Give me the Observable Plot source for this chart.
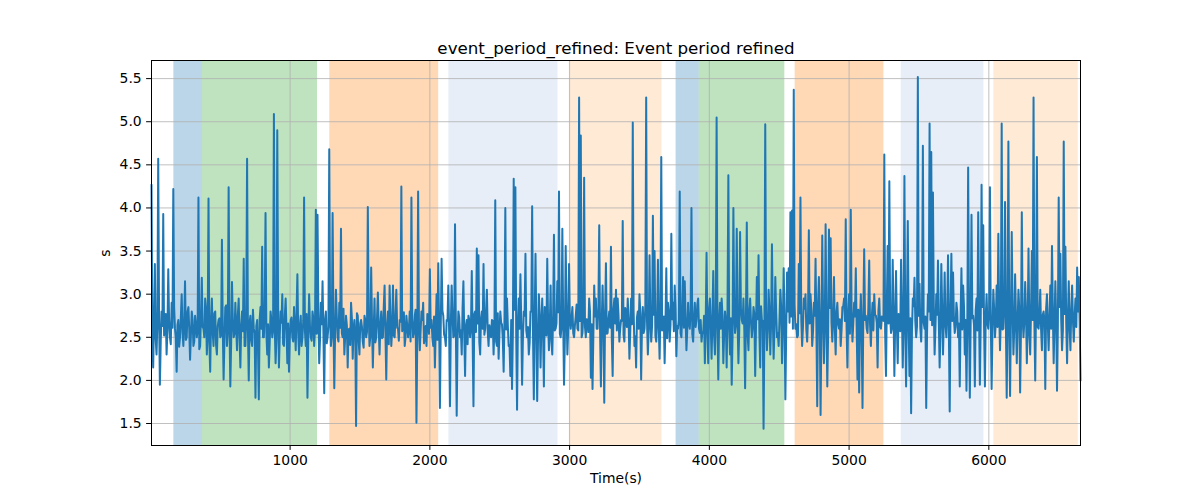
<!DOCTYPE html>
<html><head><meta charset="utf-8">
<script src="https://cdn.jsdelivr.net/npm/d3@7"></script>
<script src="https://cdn.jsdelivr.net/npm/@observablehq/plot@0.6"></script>
<style>body{margin:0;background:#fff;} #chart svg{display:block;}</style>
</head><body><div id="chart"></div>
<script>
const title = "event_period_refined: Event period refined";
const xLabel = "Time(s)";
const yLabel = "s";
const xTicks = [1000, 2000, 3000, 4000, 5000, 6000];
const yTicks = [1.5, 2.0, 2.5, 3.0, 3.5, 4.0, 4.5, 5.0, 5.5];
// samples at t = 8, 20, 32, ... (every 12 s)
const startTime = 8;
const sampleStep = 12;
const values = [
4.27,2.15,3.35,2.3,4.57,1.95,2.8,3.93,2.6,2.3,
3.29,2.5,2.9,4.22,2.6,2.1,2.7,2.5,3.0,2.4,
3.15,2.5,2.85,2.24,2.8,2.4,2.75,2.5,4.12,2.4,
3.19,2.6,2.95,2.3,4.11,2.1,2.95,2.4,2.8,2.3,
2.7,2.5,3.63,2.01,2.85,2.4,4.24,1.93,3.14,2.5,
2.9,2.35,2.95,2.15,2.8,3.41,2.4,4.57,2.0,2.75,
2.4,2.6,1.80,2.7,1.78,2.85,3.55,2.5,3.94,2.3,
2.15,2.8,2.5,5.09,2.2,4.90,2.15,2.8,3.0,2.4,
2.95,2.2,2.1,2.7,2.5,2.85,2.35,3.23,2.3,2.75,
2.5,4.12,2.4,1.80,3.0,2.5,2.8,2.4,3.98,3.92,
2.2,2.9,3.15,1.85,2.8,2.5,4.68,2.4,3.94,1.91,
3.05,2.5,2.9,3.76,
2.5,2.3,2.75,2.15,2.6,2.9,2.25,2.7,1.47,2.75,
2.3,2.7,2.45,2.75,2.5,4.01,2.4,3.31,2.15,2.95,
2.5,3.02,2.3,2.8,2.5,3.1,2.01,2.8,3.1,2.4,
3.1,2.5,3.05,2.6,2.7,4.25,2.6,2.4,2.75,2.5,
2.8,4.12,2.5,2.75,1.51,4.19,2.35,2.8,2.9,2.5,
2.4,2.7,3.29,2.7,2.4,2.15,3.0,3.36,1.68,3.41,
2.75,2.5,2.7,3.1,1.7,3.1,2.5,3.81,1.59,2.8,
2.5,2.3,3.15,2.05,2.7,2.75,2.5,3.27,1.70,2.8,
3.53,3.45,2.3,2.8,3.35,2.6,3.05,2.4,2.55,2.7,
2.3,4.09,2.4,2.25,2.8,2.65,2.1,4.0,2.95,2.4,
2.05,1.9,4.34,4.24,1.66,2.95,3.23,
1.95,2.8,3.47,2.5,2.3,2.8,4.02,1.78,3.47,1.76,
3.0,2.15,2.95,1.93,2.75,3.41,2.35,3.1,2.3,3.69,
2.6,3.15,4.19,2.5,3.76,1.95,3.56,2.3,3.35,2.6,
2.85,2.5,2.75,2.6,5.28,4.84,2.55,4.35,2.5,2.7,
2.95,2.03,1.9,3.1,2.95,2.6,3.80,1.93,3.1,1.74,
3.36,2.55,2.8,3.55,2.05,2.95,3.05,2.95,2.45,2.7,
3.85,2.45,2.8,2.95,2.25,2.95,4.99,2.4,2.15,2.8,
3.0,2.01,2.85,2.6,5.28,2.3,3.45,2.45,3.91,3.5,
2.45,3.4,2.25,4.59,2.7,2.2,3.3,2.9,2.45,3.7,
2.9,3.1,2.28,2.6,4.19,2.5,3.2,3.15,2.35,2.9,
2.6,4.0,2.45,2.9,2.7,2.95,2.55,2.45,
2.55,2.2,3.48,2.2,2.95,2.25,3.27,2.3,5.05,2.01,
2.9,2.95,2.2,2.8,2.15,4.38,2.3,1.95,4.0,2.55,
3.76,2.2,3.72,2.7,2.95,1.91,3.83,2.35,2.95,2.5,
2.85,2.05,3.2,3.45,2.15,2.7,1.44,4.97,2.35,3.05,
2.3,3.58,2.25,3.2,2.5,2.4,3.05,2.2,3.3,1.78,
3.25,3.3,3.95,3.97,5.37,2.6,2.5,3.35,4.12,2.4,
2.95,3.0,2.45,3.74,3.0,2.4,2.9,3.41,1.70,3.2,
1.60,3.68,2.2,3.81,1.93,3.75,3.65,2.45,3.2,2.3,
2.9,2.6,2.4,2.85,2.95,3.87,2.15,3.0,3.98,2.45,
2.9,3.3,2.01,1.86,3.0,1.68,3.52,2.75,2.55,3.39,
2.4,2.9,3.0,2.75,2.15,2.95,2.6,
2.7,4.62,2.05,3.56,4.31,2.55,3.4,2.05,3.27,2.2,
2.7,3.4,2.15,4.37,1.93,3.85,2.05,1.62,2.95,3.19,
2.5,5.52,3.12,2.45,4.72,2.6,1.68,3.0,4.98,4.65,
4.18,2.3,3.0,3.39,2.15,3.35,2.3,3.25,2.5,3.45,
1.64,3.47,3.25,2.55,2.9,2.5,1.93,3.3,3.1,2.3,
1.88,4.47,1.8,3.92,2.75,1.93,2.95,3.95,1.95,4.27,
3.8,1.93,3.0,2.6,4.24,1.9,3.05,2.5,3.1,3.7,
2.35,4.98,2.6,4.07,1.8,4.77,1.82,3.72,2.3,3.23,
2.2,3.05,1.86,3.95,2.5,3.14,2.2,3.53,2.3,3.5,
5.28,2.0,4.59,2.6,3.05,2.35,2.8,1.9,3.0,2.35,
3.1,3.56,2.2,3.15,1.88,4.12,3.47,2.35,4.77,3.55,
2.2,3.15,2.35,3.1,2.45,2.95,3.31,3.2,2.0
];
// in-between samples at t = 14, 26, 38, ... (the dense core of the band)
const midStartTime = 14;
const midValues = [
2.55,2.72,2.48,2.66,2.81,2.44,2.63,2.52,2.77,2.58,
2.69,2.42,2.61,2.85,2.5,2.64,2.39,2.73,2.56,2.68,
2.47,2.8,2.6,2.53,2.71,2.45,2.65,2.58,2.36,2.74,
2.62,2.5,2.83,2.57,2.44,2.69,2.55,2.78,2.41,2.63,
2.72,2.52,2.6,2.46,2.87,2.58,2.66,2.43,2.7,2.54,
2.61,2.76,2.49,2.64,2.57,2.4,2.73,2.59,2.68,2.47,
2.82,2.55,2.63,2.38,2.71,2.6,2.5,2.79,2.56,2.65,
2.44,2.7,2.58,2.62,2.48,2.84,2.53,2.67,2.42,2.75,
2.59,2.66,2.5,2.73,2.45,2.61,2.8,2.55,2.64,2.4,
2.69,2.57,2.77,2.51,2.63,2.46,2.72,2.6,2.54,2.81,
2.48,2.65,2.58,2.7,2.43,2.62,2.76,2.52,2.67,2.57,
2.74,2.45,2.61,2.55,2.83,2.5,2.64,2.59,2.41,2.72,
2.6,2.53,2.78,2.47,2.66,2.62,2.38,2.7,2.56,2.8,
2.51,2.67,2.58,2.44,2.73,2.6,2.65,2.49,2.85,2.55,
2.63,2.42,2.71,2.58,2.52,2.76,2.61,2.46,2.68,2.57,
2.79,2.5,2.64,2.6,2.45,2.72,2.55,2.82,2.48,2.66,
2.58,2.7,2.43,2.63,2.77,2.54,2.61,2.5,2.74,2.59,
2.47,2.68,2.62,2.81,2.53,2.4,2.69,2.57,2.65,2.75,
2.52,2.6,2.46,2.73,2.58,2.84,2.55,2.63,2.42,2.7,
2.61,2.49,2.77,2.56,2.66,2.44,2.72,2.6,2.53,2.8,
2.57,2.64,2.5,2.69,2.62,2.45,2.78,2.55,2.67,2.48,
2.73,2.59,2.63,2.41,2.7,2.56,2.82,2.52,2.66,2.6,
2.68,2.5,2.75,2.58,2.62,2.44,2.8,2.55,2.71,2.6,
2.48,2.76,2.63,2.57,2.85,2.52,2.69,2.61,2.45,2.74,
2.58,2.66,2.79,2.54,2.62,2.7,2.47,2.83,2.6,2.67,
2.73,2.55,2.64,2.88,2.58,2.69,2.5,2.76,2.62,2.71,
2.56,2.8,2.65,2.52,2.74,2.6,2.86,2.57,2.68,2.63,
2.77,2.54,2.7,2.61,2.49,2.82,2.66,2.58,2.75,2.6,
2.69,2.53,2.84,2.62,2.72,2.57,2.65,2.8,2.51,2.73,
2.6,2.78,2.64,2.55,2.87,2.68,2.59,2.71,2.63,2.76,
2.52,2.7,2.62,2.81,2.58,2.74,2.66,2.49,2.79,2.64,
2.71,2.57,2.85,2.63,2.69,2.55,2.77,2.61,2.72,2.59,
2.66,2.8,2.54,2.73,2.62,2.88,2.6,2.7,2.56,2.75,
2.68,2.58,2.82,2.64,2.71,2.52,2.79,2.63,2.69,2.6,
2.76,2.55,2.67,2.84,2.61,2.72,2.5,2.78,2.65,2.7,
2.58,2.83,2.66,2.6,2.74,2.53,2.8,2.68,2.62,2.77,
2.64,2.71,2.56,2.86,2.69,2.6,2.75,2.58,2.82,2.66,
2.73,2.61,2.79,2.55,2.7,2.85,2.63,2.68,2.57,2.8,
2.67,2.74,2.6,2.88,2.65,2.52,2.78,2.7,2.62,2.83,
2.59,2.72,2.66,2.81,2.57,2.75,2.63,2.9,2.68,2.61,
2.77,2.64,2.7,2.55,2.84,2.67,2.73,2.6,2.79,2.65,
2.71,2.58,2.86,2.69,2.62,2.76,2.54,2.8,2.66,2.74,
2.63,2.82,2.68,2.57,2.78,2.7,2.6,2.85,2.65,2.72,
2.58,2.76,2.67,2.81,2.62,2.74,2.69,2.55,2.87,2.66,
2.73,2.6,2.8,2.68,2.64,2.77,2.57,2.83,2.7,2.62,
2.79,2.66,2.72,2.58,2.86,2.69,2.63,2.75,2.6,2.82,
2.67,2.74,2.56,2.8,2.7,2.64,2.88,2.61,2.76,2.68,
2.6,2.83,2.71,2.65,2.78,2.57,2.84,2.69,2.73,2.62,
2.8,2.66,2.75,2.59,2.87,2.7,2.63,2.79,2.67,2.72,
2.64,2.81,2.58,2.76,2.69,2.85,2.61,2.74,2.66,2.78,
2.7,2.57,2.83,2.68,2.62,2.8,2.73,2.59,2.86,2.65,
2.77,2.63,2.71,2.84,2.6,2.75,2.67,2.82,2.58,2.72,
2.68,2.79,2.64,2.56,2.81,2.7,2.66,2.88,2.62,2.74,
2.59,2.76,2.69,2.83,2.65,2.72,2.6,2.8,2.67,2.71,
2.63,2.85,2.7,2.58,2.77,2.66,2.74,2.61,2.82,2.69,
2.75,2.62,2.8,2.68
];
const spanStart = [168, 373, 1284, 2136, 2998, 3762, 3928, 4614, 5373, 6036];
const spanEnd   = [373, 1196, 2063, 2917, 3661, 3928, 4540, 5249, 5965, 6640];
const spanColor = ["#1f77b4", "#2ca02c", "#ff7f0e", "#aec7e8", "#ffbb78",
                   "#1f77b4", "#2ca02c", "#ff7f0e", "#aec7e8", "#ffbb78"];

const data = values.map((v, i) => ({t: startTime + i * sampleStep, v}))
  .concat(midValues.map((v, i) => ({t: midStartTime + i * sampleStep, v})))
  .sort((a, b) => a.t - b.t);
const spans = spanStart.map((s, i) => ({x1: s, x2: spanEnd[i], c: spanColor[i]}));
const font = "DejaVu Sans, sans-serif";

const chart = Plot.plot({
  width: 1200, height: 500,
  marginLeft: 151, marginRight: 120, marginTop: 60, marginBottom: 55,
  style: {fontFamily: font, fontSize: "13.9px", color: "black", background: "white"},
  x: {domain: [data[0].t, data[data.length - 1].t]},
  y: {domain: [1.245, 5.71]},
  color: {type: "identity"},
  marks: [
    Plot.rect(spans, {x1: "x1", x2: "x2", fill: "c", fillOpacity: 0.3}),
    Plot.gridX(xTicks, {stroke: "#b0b0b0", strokeOpacity: 1, strokeWidth: 0.8}),
    Plot.gridY(yTicks, {stroke: "#b0b0b0", strokeOpacity: 1, strokeWidth: 0.8}),
    Plot.line(data, {x: "t", y: "v", stroke: "#1f77b4", strokeWidth: 2}),
    Plot.frame({stroke: "black", strokeWidth: 1}),
    Plot.axisX(xTicks, {tickSize: 4.9, tickPadding: 4.9, label: null, fontSize: 13.9, fill: "black", tickFormat: d3.format("d")}),
    Plot.axisY(yTicks, {tickSize: 4.9, tickPadding: 4.9, label: null, fontSize: 13.9, fill: "black", tickFormat: d3.format(".1f")}),
    Plot.text([title], {frameAnchor: "top", lineAnchor: "bottom", dy: -7, fontSize: 16.7, fill: "black"}),
    Plot.text([xLabel], {frameAnchor: "bottom", lineAnchor: "top", dy: 28, fontSize: 13.9, fill: "black"}),
    Plot.text([yLabel], {frameAnchor: "left", textAnchor: "middle", rotate: -90, dx: -46, fontSize: 13.9, fill: "black"})
  ]
});
document.getElementById("chart").appendChild(chart);
</script>
</body></html>
